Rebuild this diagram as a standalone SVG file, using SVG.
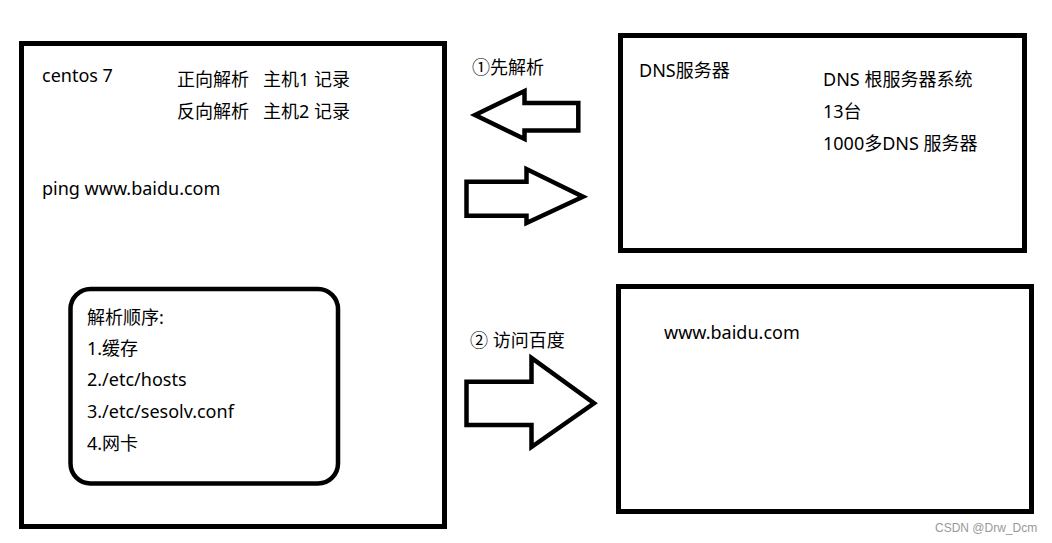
<svg xmlns="http://www.w3.org/2000/svg" width="1052" height="543" viewBox="0 0 1052 543">
<style>
.box{fill:none;stroke:#000;stroke-width:5}
.arrow{fill:#fff;stroke:#000;stroke-width:4.5;stroke-linejoin:miter}
text{font-family:"Noto Sans","Noto Sans CJK SC",sans-serif;font-size:18px;fill:#000}
.wm{font-family:"Liberation Sans",Arial,sans-serif;font-size:12px;fill:#999}
</style>
<rect width="1052" height="543" fill="#fff"/>
<g id="centos">
<rect class="box" x="21.5" y="43.5" width="423" height="483"/>
<text x="42" y="82">centos 7</text>
<text x="177" y="86">正向解析</text>
<text x="263" y="86">主机1 记录</text>
<text x="177" y="118">反向解析</text>
<text x="263" y="118">主机2 记录</text>
<text x="42" y="195">ping www.baidu.com</text>
</g>
<g id="order">
<rect class="box" x="70.5" y="289" width="267.5" height="194.5" rx="20" ry="20" style="stroke-width:4.5"/>
<text x="87" y="324">解析顺序:</text>
<text x="87" y="355">1.缓存</text>
<text x="87" y="386">2./etc/hosts</text>
<text x="87" y="418">3./etc/sesolv.conf</text>
<text x="87" y="450">4.网卡</text>
</g>
<g id="dns">
<rect class="box" x="620.5" y="35.5" width="404" height="215"/>
<text x="639" y="77">DNS服务器</text>
<text x="823" y="86">DNS 根服务器系统</text>
<text x="823" y="118">13台</text>
<text x="823" y="150">1000多DNS 服务器</text>
</g>
<g id="baidu">
<rect class="box" x="618.5" y="286.5" width="413" height="225"/>
<text x="664" y="339">www.baidu.com</text>
</g>
<g id="connectors">
<polygon class="arrow" points="475,115 524.5,91 524.5,103 578.3,103 578.3,130.5 524.5,130.5 524.5,139"/>
<polygon class="arrow" points="466.5,181.7 526.5,181.7 526.5,169 583,196.7 526.5,223 526.5,215.8 466.5,215.8"/>
<polygon class="arrow" points="466.5,381.7 531.5,381.7 531.5,358 594,403.3 531.5,447 531.5,425 466.5,425"/>
<text x="472" y="74">①先解析</text>
<text x="470" y="347">② 访问百度</text>
</g>
<text class="wm" x="935" y="532">CSDN @Drw_Dcm</text>
</svg>
